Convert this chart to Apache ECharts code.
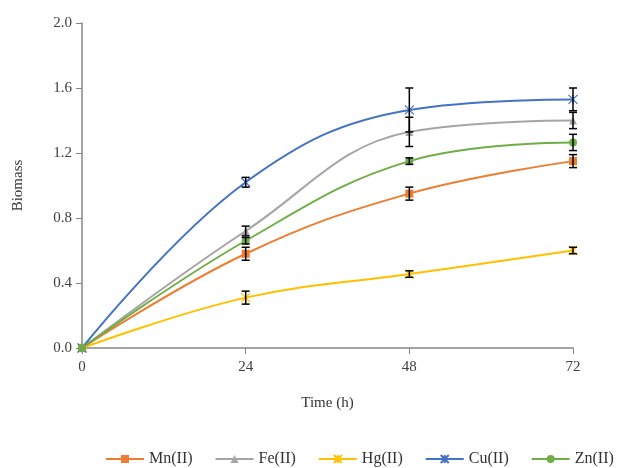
<!DOCTYPE html>
<html>
<head>
<meta charset="utf-8">
<script src="https://cdn.jsdelivr.net/npm/echarts@6/dist/echarts.min.js"></script>
<style>
  html, body { margin: 0; padding: 0; background: #fff; }
  #chart { width: 622px; height: 468px; }
</style>
</head>
<body>
<div id="chart"></div>
<script>
const hours = [0, 24, 48, 72]
const xTicks = [0, 24, 48, 72]
const seriesNames = ['Mn(II)', 'Fe(II)', 'Hg(II)', 'Cu(II)', 'Zn(II)']
const mnValues = [0, 0.58, 0.95, 1.15]
const feValues = [0, 0.72, 1.33, 1.40]
const hgValues = [0, 0.31, 0.455, 0.60]
const cuValues = [0, 1.02, 1.465, 1.53]
const znValues = [0, 0.66, 1.15, 1.265]
// standard deviations (error bars)
const mnErr = [0, 0.04, 0.04, 0.04]
const feErr = [0, 0.03, 0.09, 0.05]
const hgErr = [0, 0.04, 0.02, 0.02]
const cuErr = [0, 0.03, 0.135, 0.07]
const znErr = [0, 0.02, 0.02, 0.05]

const colors = ['#ED7D31', '#A5A5A5', '#FFC000', '#4472C4', '#70AD47']
const star = 'path://M0,0L10,10M10,0L0,10M5,0L5,10'
const symbols = ['rect', 'triangle', star, star, 'circle']
const values = [mnValues, feValues, hgValues, cuValues, znValues]
const errors = [mnErr, feErr, hgErr, cuErr, znErr]
const font = 'Liberation Serif'

const lineSeries = seriesNames.map((name, i) => ({
  name: name,
  type: 'line',
  smooth: 0.4,
  data: hours.map((h, j) => [h, values[i][j]]),
  symbol: symbols[i],
  symbolSize: symbols[i] === star ? 9 : 8,
  lineStyle: { color: colors[i], width: 2 },
  itemStyle: symbols[i] === star
    ? { color: 'rgba(0,0,0,0)', borderColor: colors[i], borderWidth: 1.2 }
    : { color: colors[i] },
  z: 2
}))

const errSeries = seriesNames.map((name, i) => ({
  type: 'custom',
  name: name + ' err',
  data: hours.map((h, j) => [h, values[i][j] - errors[i][j], values[i][j] + errors[i][j]]).filter((d, j) => errors[i][j] > 0),
  renderItem: function (params, api) {
    const lo = api.coord([api.value(0), api.value(1)])
    const hi = api.coord([api.value(0), api.value(2)])
    const w = 4
    const style = { stroke: '#000', lineWidth: 1.5 }
    return {
      type: 'group',
      children: [
        { type: 'line', shape: { x1: lo[0], y1: lo[1], x2: hi[0], y2: hi[1] }, style: style },
        { type: 'line', shape: { x1: lo[0] - w, y1: lo[1], x2: lo[0] + w, y2: lo[1] }, style: style },
        { type: 'line', shape: { x1: hi[0] - w, y1: hi[1], x2: hi[0] + w, y2: hi[1] }, style: style }
      ]
    }
  },
  z: 3,
  silent: true
}))

const option = {
  backgroundColor: '#fff',
  animation: false,
  textStyle: { fontFamily: font },
  grid: { left: 82, right: 49, top: 23, bottom: 120 },
  legend: {
    data: seriesNames,
    top: 446,
    left: 100,
    right: 0,
    itemWidth: 38,
    itemHeight: 10,
    itemGap: 22,
    textStyle: { fontFamily: font, fontSize: 16, color: '#333' }
  },
  xAxis: {
    type: 'value',
    min: xTicks[0],
    max: xTicks[xTicks.length - 1],
    interval: 24,
    name: 'Time (h)',
    nameLocation: 'middle',
    nameGap: 48,
    nameTextStyle: { fontFamily: font, fontSize: 15, color: '#333' },
    axisLine: { lineStyle: { color: '#868686', width: 1.5 } },
    axisTick: { show: true, length: 6, lineStyle: { color: '#868686' } },
    axisLabel: { fontFamily: font, fontSize: 15, color: '#404040', margin: 12 },
    splitLine: { show: false }
  },
  yAxis: {
    type: 'value',
    min: 0,
    max: 2,
    interval: 0.4,
    name: 'Biomass',
    nameLocation: 'middle',
    nameGap: 56,
    nameTextStyle: { fontFamily: font, fontSize: 15, color: '#333' },
    axisLine: { show: true, lineStyle: { color: '#868686', width: 1.5 } },
    axisTick: { show: true, length: 6, lineStyle: { color: '#868686' } },
    axisLabel: { fontFamily: font, fontSize: 15, color: '#404040', margin: 10, formatter: v => v.toFixed(1) },
    splitLine: { show: false }
  },
  series: lineSeries.concat(errSeries)
}

echarts.init(document.getElementById('chart')).setOption(option)
</script>
</body>
</html>
